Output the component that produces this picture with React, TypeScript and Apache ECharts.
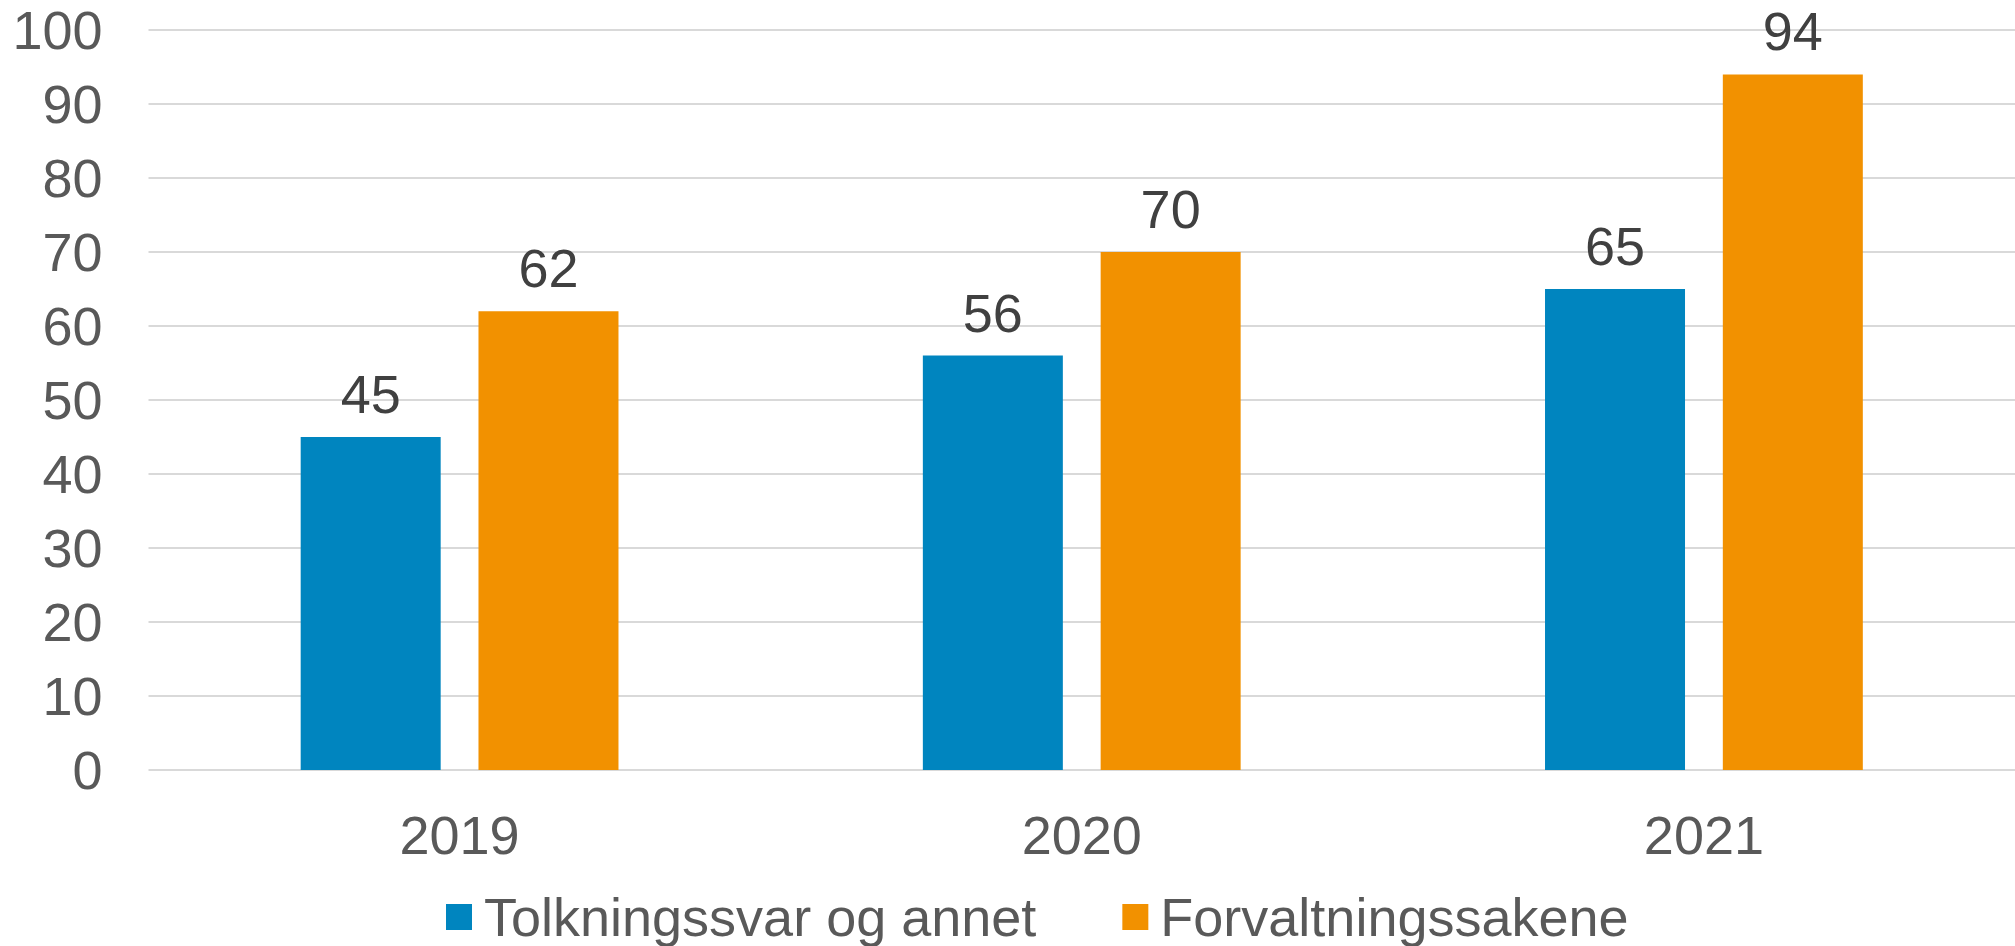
import React, { useEffect, useRef } from "react";
import * as echarts from "echarts";

const categories = ["2019", "2020", "2021"];
const seriesNames = ["Tolkningssvar og annet", "Forvaltningssakene"];
const tolkningssvar = [45, 56, 65];
const forvaltning = [62, 70, 94];
const yTicks = { min: 0, max: 100, interval: 10 };

const FONT = "'Liberation Sans', Arial, sans-serif";

export default function App() {
  const ref = useRef<HTMLDivElement>(null);
  useEffect(() => {
    if (!ref.current) return;
    const chart = echarts.init(ref.current, null, { renderer: "svg" });
    const labelStyle = {
      show: true,
      position: "top" as const,
      distance: 16,
      fontSize: 54,
      color: "#404040",
      fontFamily: FONT,
    };
    chart.setOption({
      animation: false,
      backgroundColor: "#ffffff",
      grid: { left: 148.5, width: 1878, top: 30, bottom: 176, containLabel: false },
      legend: {
        left: 441,
        top: 885,
        itemWidth: 26,
        itemHeight: 26,
        itemGap: 86,
        icon: "rect",
        textStyle: {
          fontSize: 54,
          color: "#595959",
          fontFamily: FONT,
          padding: [0, 0, 0, 7],
        },
        data: seriesNames,
      },
      xAxis: {
        type: "category",
        data: categories,
        axisLine: { show: false },
        axisTick: { show: false },
        axisLabel: { fontSize: 54, color: "#595959", fontFamily: FONT, margin: 38 },
      },
      yAxis: {
        type: "value",
        min: yTicks.min,
        max: yTicks.max,
        interval: yTicks.interval,
        axisLine: { show: false },
        axisTick: { show: false },
        axisLabel: { fontSize: 54, color: "#595959", fontFamily: FONT, margin: 46 },
        splitLine: { lineStyle: { color: "#d9d9d9", width: 2 } },
      },
      series: [
        {
          name: seriesNames[0],
          type: "bar",
          data: tolkningssvar,
          barWidth: 140,
          barGap: "27%",
          itemStyle: { color: "#0085BF" },
          label: labelStyle,
        },
        {
          name: seriesNames[1],
          type: "bar",
          data: forvaltning,
          barWidth: 140,
          barGap: "27%",
          itemStyle: { color: "#F29100" },
          label: labelStyle,
        },
      ],
    });
    return () => chart.dispose();
  }, []);
  return (
    <div
      ref={ref}
      style={{ position: "fixed", left: 0, top: 0, width: 2015, height: 946, background: "#fff" }}
    />
  );
}
